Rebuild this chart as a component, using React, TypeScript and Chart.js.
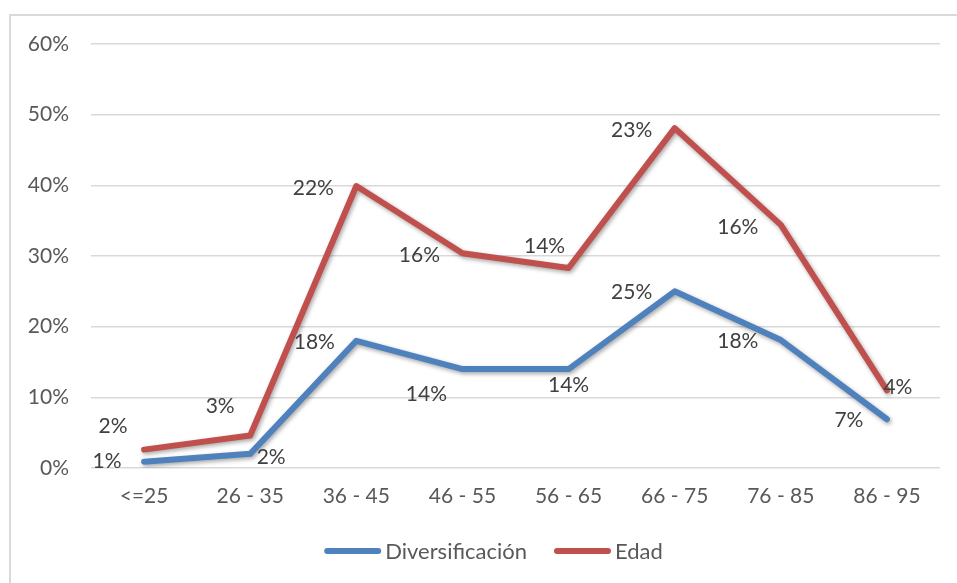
import React, { useEffect, useRef } from "react";
import { Chart, registerables } from "chart.js";

Chart.register(...registerables);

const categories = ["<=25", "26 - 35", "36 - 45", "46 - 55", "56 - 65", "66 - 75", "76 - 85", "86 - 95"];
const diversificacion = [0.9, 2.0, 18.0, 14.0, 14.0, 25.0, 18.1, 6.9];
const edad = [1.7, 2.6, 21.9, 16.4, 14.3, 23.1, 16.3, 4.1];
const diversificacionLabels = ["1%", "2%", "18%", "14%", "14%", "25%", "18%", "7%"];
const edadLabels = ["2%", "3%", "22%", "16%", "14%", "23%", "16%", "4%"];
const yTicks = [0, 10, 20, 30, 40, 50, 60];

// label placement relative to the point (style only)
const blueLabelOffsets: [number, number][] = [[-37, 0], [21, 3], [-42, 1], [-36, 25], [0, 16], [-43, 1], [-43, 1], [-38, 1]];
const redLabelOffsets: [number, number][] = [[-31, -23], [-30, -29], [-43, 2], [-43, 2], [-24, -22], [-43, 2], [-43, 2], [11, -3]];

const FONT = "Lato, 'Open Sans', sans-serif";
const BLUE = "#4F81BD";
const RED = "#C0504D";

const shadowPlugin = {
  id: "shadow",
  beforeDatasetDraw(chart: any) {
    const ctx = chart.ctx;
    ctx.save();
    ctx.shadowColor = "rgba(0,0,0,0.35)";
    ctx.shadowBlur = 4;
    ctx.shadowOffsetX = 1.5;
    ctx.shadowOffsetY = 2;
  },
  afterDatasetDraw(chart: any) {
    chart.ctx.restore();
  },
};

const labelsPlugin = {
  id: "pointLabels",
  afterDatasetsDraw(chart: any) {
    const ctx = chart.ctx;
    ctx.save();
    ctx.font = `21px ${FONT}`;
    ctx.fillStyle = "#404040";
    ctx.textAlign = "center";
    ctx.textBaseline = "middle";
    const sets = [
      { labels: diversificacionLabels, offs: blueLabelOffsets },
      { labels: edadLabels, offs: redLabelOffsets },
    ];
    sets.forEach((s, di) => {
      const meta = chart.getDatasetMeta(di);
      meta.data.forEach((pt: any, i: number) => {
        ctx.fillText(s.labels[i], pt.x + s.offs[i][0], pt.y + s.offs[i][1]);
      });
    });
    ctx.restore();
  },
};

const legendPlugin = {
  id: "customLegend",
  afterDraw(chart: any) {
    const ctx = chart.ctx;
    ctx.save();
    ctx.font = `22px ${FONT}`;
    ctx.textBaseline = "middle";
    ctx.textAlign = "left";
    const y = 551;
    const items = chart.data.datasets.map((d: any) => ({ label: d.label, color: d.borderColor }));
    const sample = 57;
    const gapText = 4;
    const gapItem = 27;
    let total = 0;
    items.forEach((it: any, i: number) => {
      total += sample + gapText + ctx.measureText(it.label).width + (i < items.length - 1 ? gapItem : 0);
    });
    let x = (chart.chartArea.left + chart.chartArea.right) / 2 - 22 - total / 2;
    items.forEach((it: any) => {
      ctx.strokeStyle = it.color;
      ctx.lineWidth = 6;
      ctx.lineCap = "round";
      ctx.beginPath();
      ctx.moveTo(x + 3, y);
      ctx.lineTo(x + sample - 3, y);
      ctx.stroke();
      x += sample + gapText;
      ctx.fillStyle = "#595959";
      ctx.fillText(it.label, x, y + 1);
      x += ctx.measureText(it.label).width + gapItem;
    });
    ctx.restore();
  },
};

export default function App() {
  const ref = useRef<HTMLCanvasElement>(null);
  useEffect(() => {
    if (!ref.current) return;
    const chart = new Chart(ref.current, {
      type: "line",
      data: {
        labels: categories,
        datasets: [
          {
            label: "Diversificación",
            data: diversificacion,
            borderColor: BLUE,
            backgroundColor: BLUE,
            borderWidth: 6,
            pointRadius: 0,
            tension: 0,
            fill: false,
            borderCapStyle: "round",
            borderJoinStyle: "round",
          },
          {
            label: "Edad",
            data: edad,
            borderColor: RED,
            backgroundColor: RED,
            borderWidth: 6,
            pointRadius: 0,
            tension: 0,
            fill: false,
            borderCapStyle: "round",
            borderJoinStyle: "round",
          },
        ],
      },
      options: {
        animation: false,
        responsive: false,
        maintainAspectRatio: false,
        layout: { padding: { top: 44, left: 0, right: 17, bottom: 65 } },
        plugins: { legend: { display: false }, tooltip: { enabled: false } },
        scales: {
          x: {
            offset: true,
            grid: { display: false, drawTicks: false },
            border: { display: false },
            ticks: { color: "#595959", font: { family: FONT, size: 21 }, padding: 16, maxRotation: 0 },
            afterFit(scale: any) { scale.height = 50; },
          },
          y: {
            stacked: true,
            min: 0,
            max: 60,
            afterBuildTicks(scale: any) { scale.ticks = yTicks.map((v) => ({ value: v })); },
            grid: { color: "#d9d9d9", lineWidth: 1.5, drawTicks: false },
            border: { display: false },
            ticks: {
              color: "#595959",
              font: { family: FONT, size: 21 },
              padding: 22,
              callback: (v: any) => `${v}%`,
            },
            afterFit(scale: any) { scale.width = 91; },
          },
        },
      },
      plugins: [shadowPlugin, labelsPlugin, legendPlugin],
    });
    return () => chart.destroy();
  }, []);
  return (
    <div style={{ position: "fixed", left: 0, top: 0, width: 957, height: 583, background: "#fff", overflow: "hidden" }}>
      <div style={{ position: "absolute", left: 9, top: 14, width: 980, height: 600, border: "2px solid #d9d9d9" }} />
      <canvas ref={ref} width={957} height={583} style={{ position: "absolute", left: 0, top: 0 }} />
    </div>
  );
}
